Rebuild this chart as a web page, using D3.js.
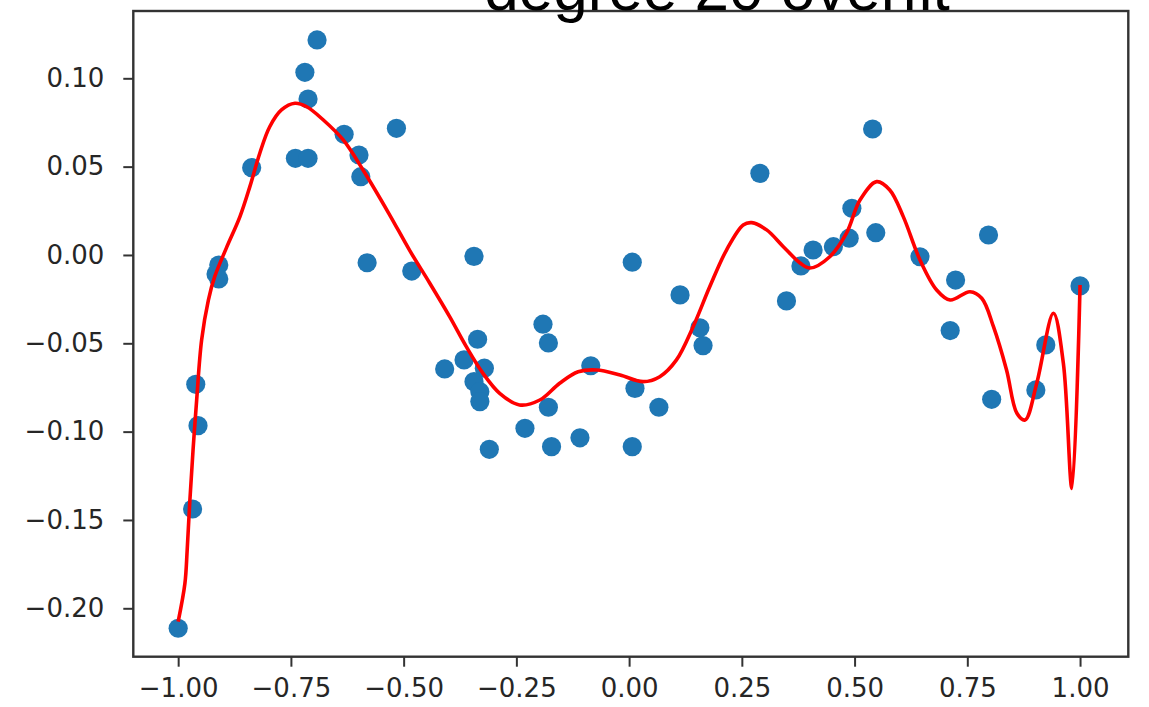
<!DOCTYPE html>
<html>
<head>
<meta charset="utf-8">
<script src="https://cdn.jsdelivr.net/npm/d3@7"></script>
<style>
  html, body { margin: 0; padding: 0; background: #ffffff; }
  svg { display: block; }
</style>
</head>
<body>
<svg id="chart" width="1149" height="707"></svg>
<script>
// Sample observations (x, y)
const sampleX = [
  -1.000, -0.968, -0.961, -0.956, -0.910, -0.916, -0.910, -0.837, -0.740, -0.712,
  -0.719, -0.712, -0.692, -0.632, -0.599, -0.595, -0.516, -0.581, -0.482, -0.344,
  -0.336, -0.366, -0.409, -0.321, -0.344, -0.331, -0.331, -0.310, -0.231, -0.191,
  -0.179, -0.179, -0.172, -0.109, -0.085, 0.007, 0.007, 0.013, 0.066, 0.113,
  0.157, 0.164, 0.290, 0.349, 0.381, 0.408, 0.453, 0.488, 0.494, 0.540,
  0.547, 0.645, 0.724, 0.712, 0.797, 0.804, 0.902, 0.924, 1.000
];
const sampleY = [
  -0.2113, -0.1438, -0.0732, -0.0966, -0.0057, -0.0108, -0.0136, 0.0494, 0.0547, 0.0547,
  0.1034, 0.0883, 0.1217, 0.0683, 0.0566, 0.0443, 0.0717, -0.0044, -0.0091, -0.0008,
  -0.0477, -0.0594, -0.0645, -0.0641, -0.0717, -0.0774, -0.0830, -0.1100, -0.0981, -0.0392,
  -0.0498, -0.0862, -0.1085, -0.1035, -0.0627, -0.0041, -0.1085, -0.0755, -0.0862, -0.0226,
  -0.0412, -0.0513, 0.0462, -0.0260, -0.0062, 0.0028, 0.0047, 0.0095, 0.0264, 0.0713,
  0.0126, -0.0010, -0.0142, -0.0428, 0.0113, -0.0817, -0.0764, -0.0509, -0.0175
];

// Degree-20 polynomial fit, evaluated along x
const fitX = [
  -1.000, -0.985, -0.980, -0.974, -0.967, -0.959, -0.948, -0.933, -0.919, -0.893,
  -0.863, -0.841, -0.819, -0.797, -0.771, -0.741, -0.715, -0.678, -0.634, -0.590,
  -0.533, -0.486, -0.442, -0.398, -0.361, -0.324, -0.287, -0.243, -0.198, -0.154,
  -0.113, -0.072, -0.020, 0.031, 0.068, 0.105, 0.142, 0.179, 0.216, 0.253,
  0.272, 0.305, 0.342, 0.379, 0.401, 0.445, 0.482, 0.512, 0.549, 0.578,
  0.608, 0.645, 0.682, 0.712, 0.756, 0.782, 0.808, 0.837, 0.860, 0.878,
  0.904, 0.941, 0.963, 0.982, 1.000
];
const fitY = [
  -0.2075, -0.1858, -0.1670, -0.1387, -0.1104, -0.0821, -0.0481, -0.0255, -0.0123, 0.0040,
  0.0217, 0.0387, 0.0576, 0.0726, 0.0821, 0.0859, 0.0839, 0.0764, 0.0651, 0.0481,
  0.0236, 0.0023, -0.0160, -0.0349, -0.0519, -0.0670, -0.0783, -0.0849, -0.0821, -0.0726,
  -0.0661, -0.0651, -0.0679, -0.0717, -0.0689, -0.0594, -0.0406, -0.0179, 0.0028, 0.0170,
  0.0183, 0.0142, 0.0047, -0.0045, -0.0074, -0.0010, 0.0123, 0.0311, 0.0415, 0.0368,
  0.0217, -0.0028, -0.0198, -0.0255, -0.0208, -0.0245, -0.0406, -0.0651, -0.0896, -0.0934,
  -0.0726, -0.0330, -0.0613, -0.1321, -0.0170
];

// Axis ticks
const xTicks = [-1.00, -0.75, -0.50, -0.25, 0.00, 0.25, 0.50, 0.75, 1.00];
const yTicks = [-0.20, -0.15, -0.10, -0.05, 0.00, 0.05, 0.10];
const titleText = "degree 20 overfit";

const svg = d3.select("#chart");
const plot = { left: 133.3, right: 1128.3, top: 11, bottom: 656.7 };

const x = d3.scaleLinear().domain([-1.0995, 1.107]).range([plot.left, plot.right]);
const y = d3.scaleLinear().domain([-0.2274, 0.1381]).range([plot.bottom, plot.top]);

const fmt = v => d3.format(".2f")(v).replace("-", "\u2212");

// Scatter of observations
const points = sampleX.map((v, i) => ({ x: v, y: sampleY[i] }));
svg.append("g")
  .selectAll("circle")
  .data(points)
  .join("circle")
  .attr("cx", d => x(d.x))
  .attr("cy", d => y(d.y))
  .attr("r", 9.6)
  .attr("fill", "#1f77b4");

// Fitted curve
const fit = fitX.map((v, i) => ({ x: v, y: fitY[i] }));
const line = d3.line()
  .x(d => x(d.x))
  .y(d => y(d.y))
  .curve(d3.curveCatmullRom.alpha(0.5));
svg.append("path")
  .datum(fit)
  .attr("d", line)
  .attr("fill", "none")
  .attr("stroke", "#ff0000")
  .attr("stroke-width", 3.6)
  .attr("stroke-linejoin", "round");

// Frame
svg.append("rect")
  .attr("x", plot.left)
  .attr("y", plot.top)
  .attr("width", plot.right - plot.left)
  .attr("height", plot.bottom - plot.top)
  .attr("fill", "none")
  .attr("stroke", "#333333")
  .attr("stroke-width", 2.4);

// Bottom axis
const xAxis = d3.axisBottom(x).tickValues(xTicks).tickFormat(fmt).tickSize(10).tickPadding(12);
const gx = svg.append("g").attr("transform", `translate(0,${plot.bottom})`).call(xAxis);
gx.select(".domain").remove();
gx.selectAll(".tick line").attr("stroke", "#333333").attr("stroke-width", 2);
gx.selectAll(".tick text")
  .attr("fill", "#262626")
  .style("font-family", "'DejaVu Sans', sans-serif")
  .style("font-size", "26px");

// Left axis
const yAxis = d3.axisLeft(y).tickValues(yTicks).tickFormat(fmt).tickSize(10).tickPadding(19);
const gy = svg.append("g").attr("transform", `translate(${plot.left},0)`).call(yAxis);
gy.select(".domain").remove();
gy.selectAll(".tick line").attr("stroke", "#333333").attr("stroke-width", 2);
gy.selectAll(".tick text")
  .attr("fill", "#262626")
  .style("font-family", "'DejaVu Sans', sans-serif")
  .style("font-size", "26px");

// Title, sitting at the very top edge of the figure
svg.append("text")
  .attr("x", 717)
  .attr("y", 10)
  .attr("text-anchor", "middle")
  .style("font-family", "'Liberation Sans', Arial, sans-serif")
  .style("font-size", "62px")
  .attr("fill", "#000")
  .text(titleText);
</script>
</body>
</html>
